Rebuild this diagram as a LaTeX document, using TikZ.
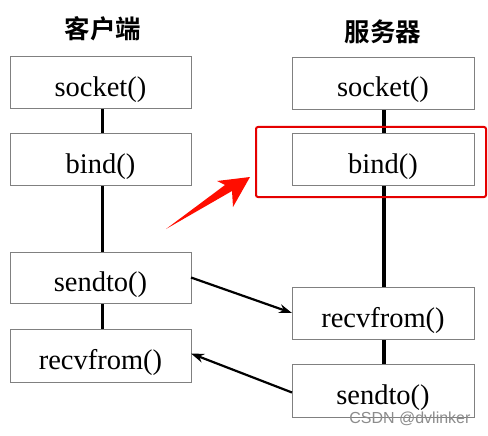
\documentclass[tikz,border=0pt]{standalone}
\usepackage{fontspec}
\setmainfont{Liberation Serif}
\newfontfamily\cjk{Noto Sans CJK SC}[BoldFont={Noto Sans CJK SC Bold}]
\newfontfamily\wmfont{Liberation Sans}
\usetikzlibrary{arrows.meta}
\begin{document}
\begin{tikzpicture}[x=1pt,y=-1pt,
  fnbox/.style={draw=black!50,line width=0.9pt,fill=white,inner sep=0pt,outer sep=0pt,
    text height=28pt,text depth=0pt,
    font=\fontsize{28.5}{30}\selectfont},
  lbox/.style={fnbox,minimum width=181pt},
  rbox/.style={fnbox,minimum width=182pt},
  title/.style={font=\cjk\bfseries\fontsize{25.5}{28}\selectfont},
  life/.style={line width=3.2pt,black},
  msg/.style={line width=2.2pt,black,-{Stealth[length=13pt,width=9pt]}}]
\useasboundingbox[fill=white] (0,0) rectangle (488,436);
% titles
\node[title] (tc) at (103,29) {客户端};
\node[title] (ts) at (383,32) {服务器};
% lifelines
\coordinate (lt) at (102.5,100);
\coordinate (lb) at (102.5,340);
\coordinate (rt) at (384,100);
\coordinate (rb) at (384,370);
\draw[life] (lt) -- (lb);
\draw[life] (rt) -- (rb);
% client boxes
\node[lbox,minimum height=52pt] (lsock) at (100.5,82) {socket()};
\node[lbox,minimum height=52pt] (lbind) at (100.5,159) {bind()};
\node[lbox,minimum height=51pt] (lsend) at (100.5,277.5) {sendto()};
\node[lbox,minimum height=53pt] (lrecv) at (100.5,355.5) {recvfrom()};
% server boxes
\node[rbox,minimum height=52pt] (rsock) at (383,83) {socket()};
\node[rbox,minimum height=52pt] (rbind) at (383,159) {bind()};
\node[rbox,minimum height=52pt] (rrecv) at (383,313) {recvfrom()};
\node[rbox,minimum height=53pt] (rsend) at (383,390.5) {sendto()};
% messages
\draw[msg] (lsend.east) -- (rrecv.west);
\draw[msg] ([yshift=-2pt]rsend.west) -- ([yshift=2pt]lrecv.east);
% highlight
\node[draw=red!90!black,line width=2pt,rounded corners=2pt,inner sep=0pt,
  minimum width=230pt,minimum height=70pt] (hl) at (371,162) {};
\fill[red!90!orange] (166,229) -- (232,191) -- (233,207) -- (250,177) -- (217,181) -- (225,185) -- cycle;
% watermark
\node[font=\wmfont\fontsize{16}{18}\selectfont,text=black!45,anchor=east] (wm) at (474,419) {CSDN @dvlinker};
\end{tikzpicture}
\end{document}
